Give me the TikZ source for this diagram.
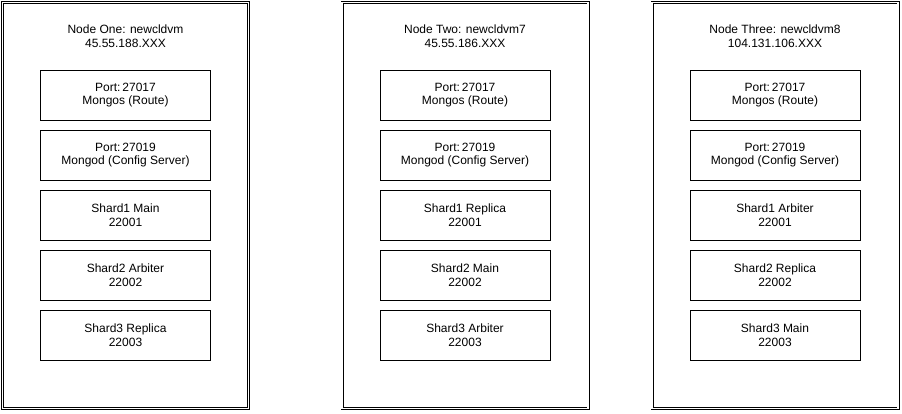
\documentclass[tikz,border=0pt]{standalone}
\usepackage{fontspec}
\setmainfont{Liberation Sans}
\begin{document}
\begin{tikzpicture}[x=1pt,y=-1pt,
  server/.style={draw, double, double distance=1.6pt, line width=0.7pt, minimum width=246pt, minimum height=406pt, inner sep=0pt},
  svc/.style={draw, line width=0.8pt, minimum width=170pt, minimum height=50pt, align=center, font=\fontsize{12}{13.8}\selectfont, inner sep=0pt},
  title/.style={align=center, font=\fontsize{12}{13.8}\selectfont, inner sep=0pt}]
\useasboundingbox (0,0) rectangle (902,414);
\foreach \c/\cx/\t/\ip/\a/\b/\cc in {
  A/125.5/One: newcldvm/45.55.188.XXX/Shard1 Main/Shard2 Arbiter/Shard3 Replica,
  B/465/Two: newcldvm7/45.55.186.XXX/Shard1 Replica/Shard2 Main/Shard3 Arbiter,
  C/775/Three: newcldvm8/104.131.106.XXX/Shard1 Arbiter/Shard2 Replica/Shard3 Main}{
  \node[server] (\c box) at (\cx,205.5) {};
  \node[title] (\c title) at (\cx,36.5) {Node \t\\\ip};
  \node[svc] (\c p1) at (\cx,95) {Port:\,27017\\Mongos (Route)};
  \node[svc] (\c p2) at (\cx,155) {Port:\,27019\\Mongod (Config Server)};
  \node[svc] (\c s1) at (\cx,215) {\a\\22001};
  \node[svc] (\c s2) at (\cx,275) {\b\\22002};
  \node[svc] (\c s3) at (\cx,335) {\cc\\22003};
}
\end{tikzpicture}
\end{document}
